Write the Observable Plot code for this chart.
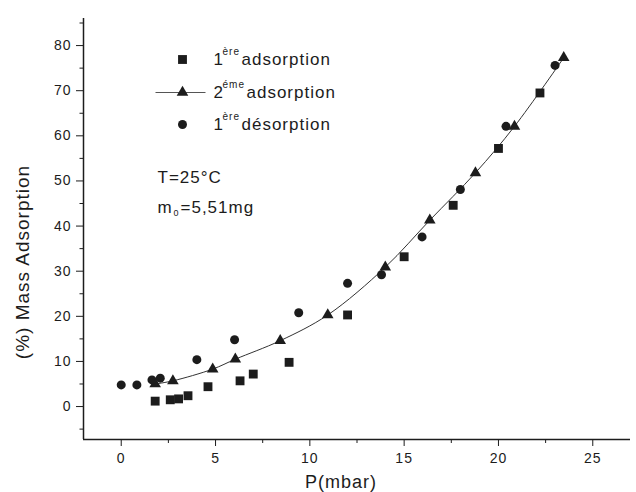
<!DOCTYPE html>
<html><head><meta charset="utf-8">
<script src="https://cdn.jsdelivr.net/npm/d3@7"></script>
<script src="https://cdn.jsdelivr.net/npm/@observablehq/plot@0.6"></script>
<style>
body{margin:0;background:#fff}
svg text{letter-spacing:1px}
</style>
</head><body><div id="chart"></div>
<script>
// 1ère adsorption (squares)
const ads1P = [1.8, 2.6, 3.04, 3.54, 4.6, 6.3, 7.0, 8.9, 12.0, 15.0, 17.6, 20.0, 22.2];
const ads1M = [1.2, 1.5, 1.7, 2.4, 4.4, 5.7, 7.2, 9.8, 20.3, 33.2, 44.6, 57.2, 69.5];
// 2ème adsorption (triangles, with fitted line)
const ads2P = [1.8, 2.74, 4.85, 6.05, 8.43, 10.95, 14.0, 16.36, 18.78, 20.85, 23.46];
const ads2M = [5.0, 5.7, 8.3, 10.5, 14.6, 20.3, 30.9, 41.3, 51.8, 62.1, 77.3];
// 1ère désorption (circles)
const desP = [0, 0.83, 1.63, 2.07, 4.01, 6.01, 9.41, 12.0, 13.8, 15.95, 17.98, 20.4, 23.0];
const desM = [4.8, 4.8, 5.9, 6.3, 10.4, 14.8, 20.8, 27.3, 29.2, 37.6, 48.1, 62.1, 75.6];

const xTicks = [0, 5, 10, 15, 20, 25];
const xMinor = [2.5, 7.5, 12.5, 17.5, 22.5];
const yTicks = [0, 10, 20, 30, 40, 50, 60, 70, 80];
const yMinor = [-5, 5, 15, 25, 35, 45, 55, 65, 75, 85];

const legendNum = ["1", "2", "1"];
const legendSup = ["ère", "éme", "ère"];
const legendWord = ["adsorption", "adsorption", "désorption"];

const toRows = (xs, ys) => xs.map((x, i) => ({x, y: ys[i]}));
const s1 = toRows(ads1P, ads1M), s2 = toRows(ads2P, ads2M), s3 = toRows(desP, desM);

const ink = "#1c1c1c";
const font = "'Liberation Sans', Arial, sans-serif";
const legendLine = {draw(ctx) { ctx.moveTo(-27, 0); ctx.lineTo(23, 0); }};

const legendRowsDy = [41, 74, 106];
const legendMarks = [];
legendRowsDy.forEach((dy, i) => {
  const sym = ["square", "triangle", "circle"][i];
  if (i === 1) legendMarks.push(Plot.dot([0], {frameAnchor: "top-left", dx: 99, dy, symbol: legendLine, r: 1, stroke: "#555", strokeWidth: 1, fill: "none"}));
  legendMarks.push(Plot.dot([0], {frameAnchor: "top-left", dx: 99, dy, symbol: sym, r: sym === "circle" ? 4.5 : (sym === "square" ? 5 : 4.3), fill: ink, stroke: "none"}));
  legendMarks.push(Plot.text([legendNum[i]], {text: d => d, frameAnchor: "top-left", dx: 130, dy, textAnchor: "start", lineAnchor: "middle", fontSize: 17, fill: ink}));
  legendMarks.push(Plot.text([legendSup[i]], {text: d => d, frameAnchor: "top-left", dx: 139, dy: dy - 8, textAnchor: "start", lineAnchor: "middle", fontSize: 10, fill: ink}));
  legendMarks.push(Plot.text([legendWord[i]], {text: d => d, frameAnchor: "top-left", dx: i === 1 ? 163 : 158, dy, textAnchor: "start", lineAnchor: "middle", fontSize: 17, fill: ink}));
});

const plot = Plot.plot({
  width: 636, height: 492,
  marginLeft: 83, marginRight: 6, marginTop: 18, marginBottom: 53,
  x: {domain: [-2, 27]},
  y: {domain: [-7.3, 86]},
  style: {fontFamily: font, fontSize: "14px", color: ink, background: "#fff"},
  marks: [
    Plot.ruleX([-2], {stroke: ink, strokeWidth: 1.5}),
    Plot.ruleY([-7.3], {stroke: ink, strokeWidth: 1.5}),
    Plot.axisY({ticks: yTicks, tickSize: 7, tickPadding: 5, label: null, fontSize: 14, stroke: ink}),
    Plot.axisY({ticks: yMinor, tickSize: 3.5, text: null, label: null, stroke: ink}),
    Plot.axisX({ticks: xTicks, tickSize: 7, tickPadding: 7, label: null, fontSize: 14, stroke: ink}),
    Plot.axisX({ticks: xMinor, tickSize: 4, text: null, label: null, stroke: ink}),
    Plot.line(s2, {x: "x", y: "y", curve: "catmull-rom", stroke: "#333", strokeWidth: 1}),
    Plot.dot(s1, {x: "x", y: "y", symbol: "square", r: 5, fill: ink}),
    Plot.dot(s2, {x: "x", y: "y", symbol: "triangle", r: 4.3, fill: ink}),
    Plot.dot(s3, {x: "x", y: "y", symbol: "circle", r: 4.5, fill: ink}),
    ...legendMarks,
    Plot.text(["T=25°C"], {text: d => d, frameAnchor: "top-left", dx: 74, dy: 159, textAnchor: "start", lineAnchor: "middle", fontSize: 17, fill: ink}),
    Plot.text(["m"], {text: d => d, frameAnchor: "top-left", dx: 74, dy: 189, textAnchor: "start", lineAnchor: "middle", fontSize: 17, fill: ink}),
    Plot.text(["0"], {text: d => d, frameAnchor: "top-left", dx: 90, dy: 195, textAnchor: "start", lineAnchor: "middle", fontSize: 9, fill: ink}),
    Plot.text(["=5,51mg"], {text: d => d, frameAnchor: "top-left", dx: 97, dy: 189, textAnchor: "start", lineAnchor: "middle", fontSize: 17, fill: ink}),
    Plot.text(["(%) Mass Adsorption"], {text: d => d, frameAnchor: "left", dx: -55, dy: 33, rotate: -90, textAnchor: "middle", lineAnchor: "bottom", fontSize: 19, fill: ink}),
    Plot.text(["P(mbar)"], {text: d => d, frameAnchor: "bottom", dx: -16, dy: 48, textAnchor: "middle", lineAnchor: "bottom", fontSize: 18, fill: ink})
  ]
});
document.getElementById("chart").appendChild(plot);
</script>
</body></html>
